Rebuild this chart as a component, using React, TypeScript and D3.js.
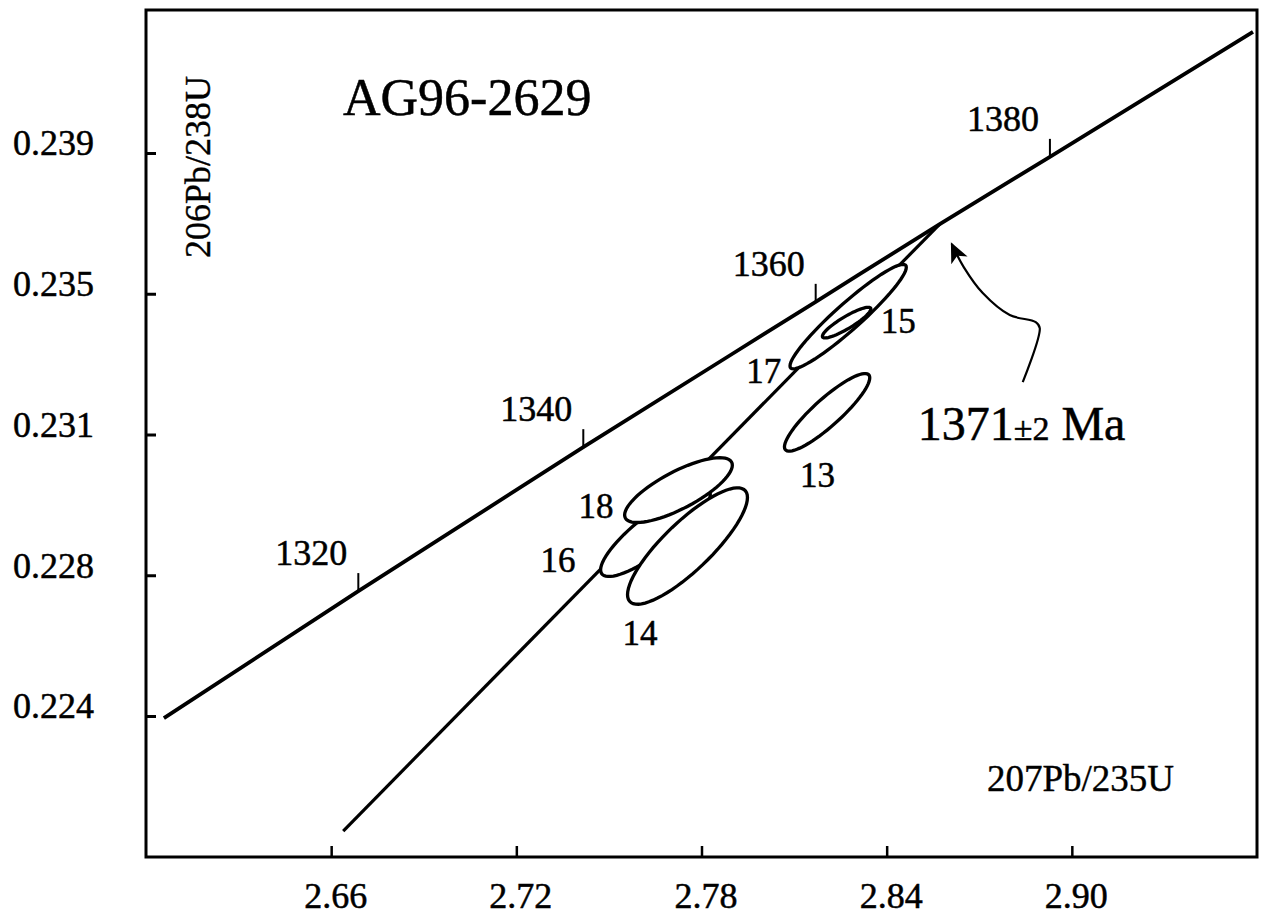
import React, { useRef, useEffect } from 'react'
import * as d3 from 'd3'

// axis ticks (labels as printed on the figure)
const xTicks = [2.66, 2.72, 2.78, 2.84, 2.9]
const xTickLabels = ['2.66', '2.72', '2.78', '2.84', '2.90']
const yTicks = [0.239, 0.235, 0.231, 0.227, 0.223]
const yTickLabels = ['0.239', '0.235', '0.231', '0.228', '0.224']

// concordia curve
const concordiaX = [2.6058, 2.6688, 2.7417, 2.817, 2.8572, 2.8929, 2.9587]
const concordiaY = [0.22294, 0.22655, 0.23064, 0.23477, 0.23698, 0.23889, 0.24244]

// age marks on the concordia (Ma)
const ageTicks = ['1320', '1340', '1360', '1380']
const ageTickX = [2.6688, 2.7417, 2.817, 2.8929]
const ageTickY = [0.22655, 0.23064, 0.23477, 0.23889]

// discordia: lower end and upper intercept
const discordiaX = [2.6639, 2.8572]
const discordiaY = [0.21973, 0.23698]
const interceptLabel = ['1371', '±2', ' Ma']

// analyses (2 sigma error ellipses), drawn in this order
const spots = ['16', '14', '18', '13', '17', '15']
const spotX = [2.76508, 2.77546, 2.77254, 2.8207, 2.82752, 2.82703]
const spotY = [0.22823, 0.22783, 0.22942, 0.23163, 0.23435, 0.23418]
const spotSx = [0.01777, 0.01943, 0.01745, 0.01382, 0.01884, 0.00785]
const spotSy = [0.001265, 0.001654, 0.000921, 0.001103, 0.001484, 0.000435]
const spotRho = [0.85, 0.835, 0.768, 0.889, 0.944, 0.891]

const FONT = '"Liberation Serif", "Times New Roman", serif'

function Concordia() {
    const ref = useRef<SVGSVGElement>(null)

    useEffect(() => {
        const W = 1265
        const H = 920
        const left = 146
        const right = 1257
        const top = 10
        const bottom = 857

        const svg = d3.select(ref.current)
        svg.selectAll('*').remove()

        const x = d3.scaleLinear().domain([2.6, 2.96]).range([left, right])
        const y = d3.scaleLinear().domain([0.218993, 0.243064]).range([bottom, top])

        svg.append('rect').attr('width', W).attr('height', H).attr('fill', 'white')

        const defs = svg.append('defs')
        defs
            .append('marker')
            .attr('id', 'arrowhead')
            .attr('viewBox', '0 0 20 20')
            .attr('refX', 18)
            .attr('refY', 10)
            .attr('markerWidth', 20)
            .attr('markerHeight', 20)
            .attr('markerUnits', 'userSpaceOnUse')
            .attr('orient', 'auto')
            .append('path')
            .attr('d', 'M0,1 L20,10 L0,19 L5,10 Z')
            .attr('fill', 'black')

        // discordia line
        const line = d3
            .line<[number, number]>()
            .x(d => x(d[0]))
            .y(d => y(d[1]))

        svg
            .append('path')
            .attr('d', line(discordiaX.map((v, i) => [v, discordiaY[i]])))
            .attr('fill', 'none')
            .attr('stroke', 'black')
            .attr('stroke-width', 3.2)

        // concordia curve
        svg
            .append('path')
            .attr('d', line.curve(d3.curveMonotoneX)(concordiaX.map((v, i) => [v, concordiaY[i]])))
            .attr('fill', 'none')
            .attr('stroke', 'black')
            .attr('stroke-width', 3.8)

        // age ticks + labels
        const ages = svg
            .selectAll('g.age')
            .data(ageTicks)
            .join('g')
            .attr('class', 'age')
            .attr('transform', (d, i) => `translate(${x(ageTickX[i])}, ${y(ageTickY[i])})`)
        ages
            .append('line')
            .attr('y1', 0)
            .attr('y2', -18)
            .attr('stroke', 'black')
            .attr('stroke-width', 2)
        ages
            .append('text')
            .attr('x', -11)
            .attr('y', -26)
            .attr('text-anchor', 'end')
            .style('font-family', FONT)
            .style('font-size', '36px')
            .style('stroke', 'black')
            .style('stroke-width', 0.5)
            .text(d => d)

        // error ellipses
        const ellipse = (i: number) =>
            d3.range(0, 72).map(k => {
                const t = (k / 72) * 2 * Math.PI
                const px = spotX[i] + spotSx[i] * Math.cos(t)
                const py =
                    spotY[i] +
                    spotSy[i] * (spotRho[i] * Math.cos(t) + Math.sqrt(1 - spotRho[i] ** 2) * Math.sin(t))
                return [px, py] as [number, number]
            })
        const closed = d3
            .line<[number, number]>()
            .x(d => x(d[0]))
            .y(d => y(d[1]))
            .curve(d3.curveLinearClosed)

        svg
            .selectAll('path.spot')
            .data(spots)
            .join('path')
            .attr('class', 'spot')
            .attr('d', (d, i) => closed(ellipse(i)))
            .attr('fill', 'white')
            .attr('stroke', 'black')
            .attr('stroke-width', 3.3)

        // spot labels, offsets in px from the ellipse centre
        const labelOffset: Record<string, [number, number]> = {
            '13': [-27, 75],
            '14': [-65, 99],
            '15': [34, 10],
            '16': [-115, 40],
            '17': [-102, 66],
            '18': [-100, 28],
        }
        svg
            .selectAll('text.spot-label')
            .data(spots)
            .join('text')
            .attr('class', 'spot-label')
            .attr('x', (d, i) => x(spotX[i]) + labelOffset[d][0])
            .attr('y', (d, i) => y(spotY[i]) + labelOffset[d][1])
            .style('font-family', FONT)
            .style('font-size', '35px')
            .style('stroke', 'black')
            .style('stroke-width', 0.5)
            .text(d => d)

        // frame
        svg
            .append('rect')
            .attr('x', left)
            .attr('y', top)
            .attr('width', right - left)
            .attr('height', bottom - top)
            .attr('fill', 'none')
            .attr('stroke', 'black')
            .attr('stroke-width', 3)

        // axes
        const yAxis = svg
            .append('g')
            .attr('transform', `translate(${left}, 0)`)
            .call(
                d3
                    .axisLeft(y)
                    .tickValues(yTicks)
                    .tickSize(-10)
                    .tickPadding(52)
                    .tickFormat((d, i) => yTickLabels[i])
            )
        yAxis.select('.domain').remove()
        yAxis.selectAll('line').attr('stroke-width', 3)
        yAxis
            .selectAll('text')
            .attr('dy', '0.05em')
            .attr('fill', 'black')
            .style('font-family', FONT)
            .style('font-size', '36px')
            .style('stroke', 'black')
            .style('stroke-width', 0.5)

        const xAxis = svg
            .append('g')
            .attr('transform', `translate(0, ${bottom})`)
            .call(
                d3
                    .axisBottom(x)
                    .tickValues(xTicks)
                    .tickSize(-11)
                    .tickPadding(25)
                    .tickFormat((d, i) => xTickLabels[i])
            )
        xAxis.select('.domain').remove()
        xAxis.selectAll('line').attr('stroke-width', 2.5)
        xAxis
            .selectAll('text')
            .attr('dx', 4)
            .attr('fill', 'black')
            .style('font-family', FONT)
            .style('font-size', '36px')
            .style('stroke', 'black')
            .style('stroke-width', 0.5)

        // axis titles
        svg
            .append('text')
            .attr('transform', `translate(210, 167) rotate(-90)`)
            .attr('text-anchor', 'middle')
            .style('font-family', FONT)
            .style('font-size', '36px')
            .style('stroke', 'black')
            .style('stroke-width', 0.4)
            .text('206Pb/238U')

        svg
            .append('text')
            .attr('x', 987)
            .attr('y', 791)
            .style('font-family', FONT)
            .style('font-size', '37px')
            .style('stroke', 'black')
            .style('stroke-width', 0.4)
            .text('207Pb/235U')

        svg
            .append('text')
            .attr('x', 343)
            .attr('y', 115)
            .style('font-family', FONT)
            .style('font-size', '52px')
            .style('stroke', 'black')
            .style('stroke-width', 0.5)
            .text('AG96-2629')

        // intercept annotation with curved arrow
        const ix = x(discordiaX[1])
        const iy = y(discordiaY[1])
        const arrowPts: [number, number][] = [
            [83, 158],
            [100, 104],
            [96, 98],
            [70, 91],
            [43, 69],
            [24, 43],
            [12, 20],
        ]
        svg
            .append('path')
            .attr(
                'd',
                d3
                    .line<[number, number]>()
                    .x(d => ix + d[0])
                    .y(d => iy + d[1])
                    .curve(d3.curveCatmullRom)(arrowPts)
            )
            .attr('fill', 'none')
            .attr('stroke', 'black')
            .attr('stroke-width', 2.2)
            .attr('marker-end', 'url(#arrowhead)')

        const ann = svg
            .append('text')
            .attr('x', ix - 22)
            .attr('y', iy + 216)
            .style('font-family', FONT)
            .style('font-size', '48px')
            .style('stroke', 'black')
            .style('stroke-width', 0.5)
        ann.append('tspan').text(interceptLabel[0])
        ann.append('tspan').style('font-size', '34px').text(interceptLabel[1])
        ann.append('tspan').attr('xml:space', 'preserve').text(interceptLabel[2])
    }, [])

    return <svg ref={ref} width={1265} height={920} style={{ display: 'block' }} />
}

export default function App() {
    return (
        <div style={{ position: 'absolute', left: 0, top: 0 }}>
            <Concordia />
        </div>
    )
}
